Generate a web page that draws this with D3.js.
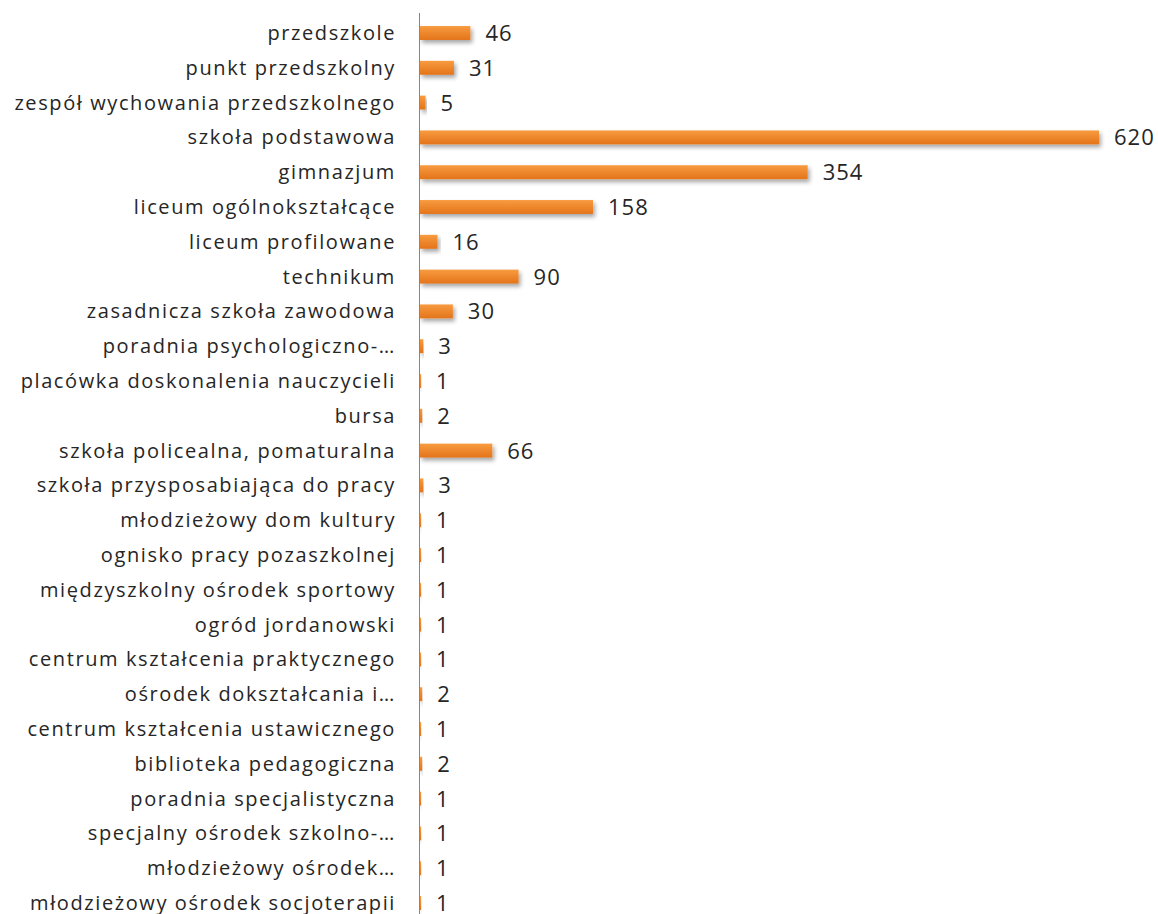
<!DOCTYPE html>
<html><head><meta charset="utf-8">
<script src="https://cdn.jsdelivr.net/npm/d3@7"></script>
<style>body{margin:0;background:#fff}svg{display:block}</style>
</head><body>
<script>
const categories = ["przedszkole","punkt przedszkolny","zespół wychowania przedszkolnego","szkoła podstawowa","gimnazjum","liceum ogólnokształcące","liceum profilowane","technikum","zasadnicza szkoła zawodowa","poradnia psychologiczno-…","placówka doskonalenia nauczycieli","bursa","szkoła policealna, pomaturalna","szkoła przysposabiająca do pracy","młodzieżowy dom kultury","ognisko pracy pozaszkolnej","międzyszkolny ośrodek sportowy","ogród jordanowski","centrum kształcenia praktycznego","ośrodek dokształcania i…","centrum kształcenia ustawicznego","biblioteka pedagogiczna","poradnia specjalistyczna","specjalny ośrodek szkolno-…","młodzieżowy ośrodek…","młodzieżowy ośrodek socjoterapii"];
const values = [46,31,5,620,354,158,16,90,30,3,1,2,66,3,1,1,1,1,1,2,1,2,1,1,1,1];

const W=1158,H=914;
const svg=d3.select("body").append("svg").attr("width",W).attr("height",H);
const defs=svg.append("defs");
const g=defs.append("linearGradient").attr("id","bg").attr("x1",0).attr("y1",0).attr("x2",0).attr("y2",1);
g.append("stop").attr("offset","0%").attr("stop-color","#f89b40");
g.append("stop").attr("offset","100%").attr("stop-color","#e3741a");
const f=defs.append("filter").attr("id","sh").attr("x","-5%").attr("y","-50%").attr("width","120%").attr("height","250%");
f.append("feDropShadow").attr("dx",2).attr("dy",3).attr("stdDeviation",2).attr("flood-color","#000").attr("flood-opacity",0.35);

const x=d3.scaleLinear().domain([0,620]).range([420,1099]);
const y=d3.scaleBand().domain(categories).range([15.6,920.4]).paddingInner(0.6).paddingOuter(0.3);

svg.append("g").selectAll("rect").data(values).join("rect")
  .attr("x",x(0)).attr("y",(d,i)=>y(categories[i]))
  .attr("width",d=>Math.max(0,x(d)-x(0))).attr("height",y.bandwidth())
  .attr("fill","url(#bg)").attr("filter","url(#sh)");

svg.append("line").attr("x1",419.5).attr("x2",419.5).attr("y1",13).attr("y2",H).attr("stroke","#868686").attr("stroke-width",1);

svg.append("g").selectAll("text").data(categories).join("text")
  .attr("x",396).attr("y",d=>y(d)+y.bandwidth()/2).attr("dy","0.35em")
  .attr("text-anchor","end").attr("font-family","'Open Sans',sans-serif").attr("font-size",20)
  .attr("letter-spacing",1.6).attr("fill","#262626")
  .text(d=>d);

svg.append("g").selectAll("text").data(values).join("text")
  .attr("x",d=>x(d)+15).attr("y",(d,i)=>y(categories[i])+y.bandwidth()/2).attr("dy","0.36em")
  .attr("font-family","'Open Sans',sans-serif").attr("font-size",22).attr("letter-spacing",1).attr("fill","#262626")
  .text(d=>d);
</script>
</body></html>
